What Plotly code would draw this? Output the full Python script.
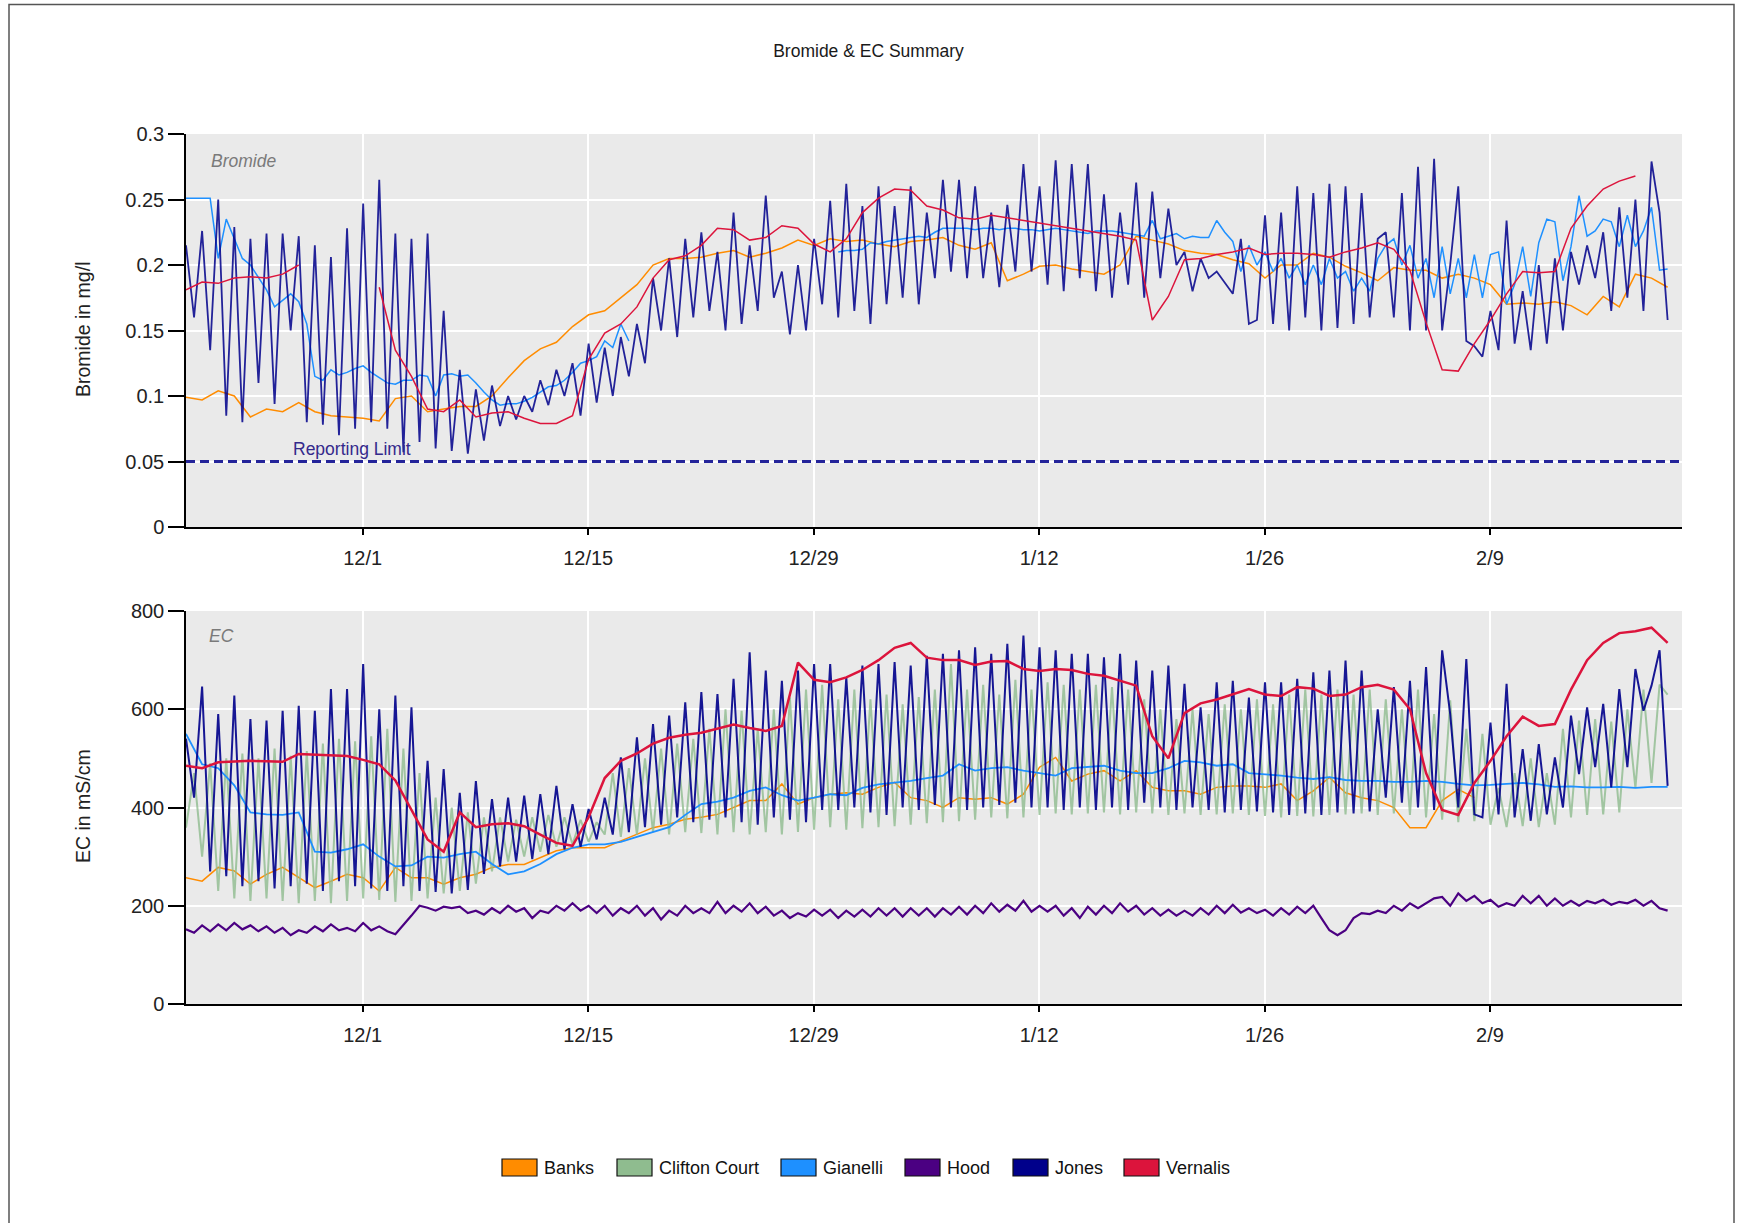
import plotly.graph_objects as go
import pandas as pd

# ---------------- time bases ----------------
START = "2014-11-20 00:39"
half_day_times = pd.date_range(START, periods=185, freq="12h")
day_times = pd.date_range(START, periods=93, freq="D")

x_ticks = ["2014-12-01", "2014-12-15", "2014-12-29", "2015-01-12", "2015-01-26", "2015-02-09"]
x_ticklabels = ["12/1", "12/15", "12/29", "1/12", "1/26", "2/9"]
br_ticks = [0, 0.05, 0.1, 0.15, 0.2, 0.25, 0.3]
br_ticklabels = ["0", "0.05", "0.1", "0.15", "0.2", "0.25", "0.3"]
ec_ticks = [0, 200, 400, 600, 800]
ec_ticklabels = ["0", "200", "400", "600", "800"]
reporting_limit = 0.05

# ---------------- Bromide (mg/l) ----------------
jones_br = [
    0.215, 0.160, 0.226, 0.135, 0.250, 0.085, 0.229, 0.080, 0.220, 0.110,
    0.224, 0.094, 0.224, 0.150, 0.222, 0.080, 0.215, 0.078, 0.206, 0.070,
    0.228, 0.075, 0.247, 0.080, 0.265, 0.075, 0.224, 0.057, 0.220, 0.065,
    0.224, 0.060, 0.165, 0.058, 0.120, 0.056, 0.105, 0.066, 0.108, 0.077,
    0.100, 0.082, 0.100, 0.088, 0.112, 0.093, 0.120, 0.100, 0.125, 0.085,
    0.140, 0.095, 0.137, 0.100, 0.145, 0.115, 0.155, 0.125, 0.190, 0.150,
    0.205, 0.145, 0.220, 0.160, 0.225, 0.165, 0.210, 0.150, 0.240, 0.155,
    0.215, 0.165, 0.253, 0.175, 0.195, 0.147, 0.200, 0.150, 0.220, 0.170,
    0.249, 0.160, 0.262, 0.165, 0.245, 0.155, 0.260, 0.170, 0.245, 0.175,
    0.260, 0.170, 0.240, 0.190, 0.265, 0.195, 0.265, 0.190, 0.260, 0.190,
    0.240, 0.183, 0.246, 0.195, 0.277, 0.195, 0.260, 0.185, 0.280, 0.180,
    0.277, 0.190, 0.277, 0.180, 0.254, 0.175, 0.240, 0.185, 0.263, 0.175,
    0.256, 0.190, 0.243, 0.200, 0.210, 0.180, 0.205, 0.190, 0.195, 0.186,
    0.178, 0.220, 0.155, 0.158, 0.238, 0.155, 0.240, 0.150, 0.260, 0.160,
    0.255, 0.150, 0.262, 0.152, 0.260, 0.155, 0.255, 0.160, 0.220, 0.225,
    0.160, 0.255, 0.150, 0.275, 0.150, 0.281, 0.150, 0.200, 0.260, 0.142,
    0.138, 0.130, 0.165, 0.135, 0.234, 0.140, 0.180, 0.135, 0.200, 0.140,
    0.205, 0.150, 0.210, 0.185, 0.215, 0.190, 0.225, 0.165, 0.244, 0.175,
    0.250, 0.165, 0.279, 0.240, 0.158,
]

gianelli_br = [
    0.251, 0.251, 0.251, 0.251, 0.205, 0.235, 0.220, 0.205, 0.200, 0.190,
    0.181, 0.168, 0.173, 0.178, 0.172, 0.155, 0.115, 0.112, 0.120, 0.116,
    0.118, 0.121, 0.123, 0.118, 0.114, 0.110, 0.109, 0.112, 0.112, 0.116,
    0.115, 0.100, 0.116, 0.117, 0.115, 0.116, 0.110, 0.103, 0.097, 0.093,
    0.094, 0.094, 0.096, 0.099, 0.103, 0.107, 0.108, 0.112, 0.118, 0.125,
    0.127, 0.130, 0.142, 0.137, 0.155, 0.142,
    None, None, None, None, None, None, None, None, None, None,
    None, None, None, None, None, None, None, None, None, None,
    None, None, None, None, None,
    0.210, 0.211, 0.211, 0.212, 0.217, 0.216, 0.218, 0.219, 0.220,
    0.221, 0.222, 0.221, 0.225, 0.228, 0.228, 0.228, 0.228, 0.227, 0.228,
    0.228, 0.227, 0.228, 0.228, 0.227, 0.227, 0.226, 0.227, 0.228, 0.227,
    0.226, 0.225, 0.224, 0.226, 0.226, 0.226, 0.225, 0.224, 0.223, 0.222,
    0.234, 0.220, 0.222, 0.224, 0.220, 0.222, 0.221, 0.221, 0.234, 0.225,
    0.218, 0.195, 0.215, 0.200, 0.210, 0.195, 0.205, 0.190, 0.200, 0.185,
    0.200, 0.185, 0.205, 0.190, 0.195, 0.180, 0.190, 0.180, 0.205, 0.215,
    0.220, 0.200, 0.215, 0.190, 0.205, 0.175, 0.214, 0.178, 0.205, 0.175,
    0.208, 0.175, 0.208, 0.210, 0.170, 0.185, 0.214, 0.176, 0.217, 0.235,
    0.233, 0.188, 0.214, 0.253, 0.222, 0.226, 0.235, 0.233, 0.214, 0.238,
    0.214, 0.226, 0.244, 0.196, 0.197,
]

banks_br = [
    0.099, 0.097, 0.104, 0.100, 0.084, 0.090, 0.088, 0.095, 0.088, 0.085,
    0.084, 0.083, 0.081, 0.098, 0.100, 0.088, 0.090, 0.092, 0.092, 0.100,
    0.114, 0.127, 0.136, 0.141, 0.153, 0.162, 0.165, 0.175, 0.185, 0.200,
    0.205, 0.205, 0.206, 0.209, 0.211, 0.206, 0.209, 0.213, 0.219, 0.215,
    0.220, 0.218, 0.219, 0.216, 0.214, 0.218, 0.219, 0.221, 0.215, 0.212,
    0.217, 0.188, 0.193, 0.199, 0.200, 0.197, 0.195, 0.193, 0.200, 0.222,
    0.219, 0.216, 0.211, 0.209, 0.208, 0.204, 0.201, 0.190, 0.200, 0.200,
    0.209, 0.206, 0.199, 0.194, 0.188, 0.198, 0.196, 0.196, 0.190, 0.193,
    0.190, 0.185, 0.170, 0.171, 0.170, 0.172, 0.169, 0.162, 0.176, 0.168,
    0.193, 0.190, 0.183,
]

vernalis_br = [
    0.181, 0.187, 0.186, 0.190, 0.191, 0.190, 0.193, 0.200, None, None,
    None, None, 0.183, 0.135, 0.115, 0.090, 0.088, 0.097, 0.084, 0.087,
    0.088, 0.083, 0.079, 0.079, 0.085, 0.128, 0.148, 0.155, 0.168, 0.190,
    0.204, 0.207, 0.215, 0.228, 0.227, 0.219, 0.221, 0.230, 0.228, 0.216,
    0.210, 0.220, 0.240, 0.251, 0.258, 0.257, 0.245, 0.242, 0.236, 0.235,
    0.238, 0.236, 0.234, 0.232, 0.230, 0.228, 0.226, 0.224, 0.222, 0.219,
    0.158, 0.176, 0.204, 0.205, 0.208, 0.210, 0.213, 0.208, 0.209, 0.209,
    0.208, 0.206, 0.210, 0.213, 0.217, 0.212, 0.196, 0.156, 0.120, 0.119,
    0.140, 0.158, 0.178, 0.195, 0.194, 0.195, 0.228, 0.245, 0.258, 0.264,
    0.268, None, None,
]

# ---------------- EC (mS/cm) ----------------
jones_ec = [
    540, 420, 646, 270, 590, 260, 628, 240, 580, 250,
    577, 235, 597, 240, 607, 245, 597, 230, 641, 250,
    641, 240, 692, 235, 600, 230, 628, 240, 604, 230,
    495, 228, 478, 225, 430, 232, 454, 265, 417, 280,
    420, 290, 424, 295, 427, 305, 444, 315, 407, 320,
    397, 335, 420, 345, 502, 350, 543, 360, 570, 365,
    587, 380, 614, 370, 635, 375, 631, 380, 662, 370,
    716, 365, 679, 380, 658, 375, 679, 370, 692, 395,
    692, 395, 665, 400, 689, 390, 692, 385, 696, 400,
    689, 395, 709, 405, 713, 400, 720, 395, 726, 400,
    713, 405, 733, 410, 750, 400, 726, 400, 720, 395,
    713, 400, 713, 395, 706, 400, 713, 395, 699, 410,
    679, 400, 689, 395, 652, 400, 604, 395, 655, 390,
    658, 395, 624, 392, 655, 390, 655, 385, 662, 388,
    675, 385, 679, 390, 699, 388, 679, 392, 600, 420,
    645, 410, 658, 400, 686, 395, 720, 590, 400, 702,
    386, 380, 573, 386, 652, 380, 519, 373, 529, 386,
    502, 400, 587, 468, 604, 482, 611, 441, 641, 482,
    682, 597, 648, 720, 444,
]

clifton_ec = [
    359, 470, 300, 490, 230, 500, 215, 510, 210, 500,
    215, 520, 210, 505, 205, 515, 210, 530, 205, 540,
    210, 535, 215, 545, 212, 560, 208, 520, 210, 470,
    215, 420, 225, 400, 230, 390, 245, 380, 270, 380,
    290, 375, 300, 380, 310, 385, 320, 380, 325, 375,
    330, 370, 345, 470, 340, 480, 345, 500, 350, 520,
    345, 530, 350, 540, 348, 560, 345, 600, 350, 597,
    345, 560, 350, 600, 345, 624, 350, 640, 355, 650,
    360, 620, 355, 640, 358, 620, 360, 630, 362, 610,
    365, 625, 368, 640, 370, 692, 372, 640, 375, 650,
    380, 630, 378, 660, 380, 640, 385, 655, 388, 650,
    386, 640, 388, 650, 390, 645, 386, 640, 390, 620,
    388, 600, 385, 580, 388, 600, 385, 590, 386, 610,
    388, 600, 385, 620, 383, 610, 380, 630, 383, 640,
    382, 630, 385, 640, 386, 630, 388, 640, 385, 620,
    388, 600, 385, 640, 380, 590, 375, 618, 370, 560,
    372, 550, 365, 440, 360, 470, 362, 500, 360, 470,
    365, 560, 380, 577, 385, 580, 386, 575, 390, 600,
    440, 640, 450, 650, 630,
]

hood_ec = [
    152, 145, 160, 148, 162, 150, 165, 152, 160, 148,
    158, 145, 155, 140, 150, 145, 158, 148, 162, 150,
    155, 148, 165, 150, 158, 148, 142, 160, 180, 200,
    196, 190, 198, 195, 198, 185, 190, 182, 195, 185,
    200, 188, 195, 175, 190, 185, 200, 190, 205, 190,
    200, 185, 200, 180, 195, 185, 200, 180, 195, 172,
    190, 180, 200, 185, 195, 185, 208, 185, 200, 188,
    205, 185, 198, 180, 190, 175, 185, 178, 192, 180,
    192, 175, 190, 178, 192, 178, 195, 180, 195, 178,
    195, 180, 195, 178, 195, 182, 198, 182, 200, 185,
    205, 188, 202, 190, 210, 188, 200, 188, 200, 180,
    195, 175, 198, 182, 200, 185, 205, 188, 200, 182,
    195, 180, 192, 180, 190, 180, 195, 182, 200, 185,
    202, 186, 195, 185, 192, 180, 195, 182, 198, 185,
    200, 175, 150, 140, 150, 175, 185, 183, 190, 185,
    200, 190, 205, 195, 205, 215, 218, 200, 225, 210,
    220, 205, 212, 198, 205, 200, 220, 205, 220, 200,
    215, 200, 210, 200, 210, 205, 212, 202, 208, 205,
    212, 200, 210, 195, 190,
]

banks_ec = [
    257, 250, 278, 271, 244, 264, 278, 257, 237, 250,
    264, 257, 230, 278, 257, 257, 244, 257, 264, 278,
    284, 284, 298, 312, 318, 318, 318, 332, 346, 359,
    366, 376, 380, 386, 400, 414, 414, 448, 407, 420,
    427, 430, 427, 441, 451, 420, 414, 400, 420, 417,
    420, 407, 427, 482, 502, 454, 468, 475, 454, 475,
    441, 434, 434, 427, 441, 444, 444, 441, 448, 414,
    434, 461, 430, 420, 414, 400, 359, 359, 414, 437,
    420, None, None, None, None, None, None, None, None, None,
    None, None, None,
]

gianelli_ec = [
    550, 488, 480, 445, 390, 386, 385, 390, 310, 308,
    315, 325, 300, 280, 282, 300, 298, 305, 310, 285,
    264, 270, 285, 305, 318, 325, 325, 330, 340, 350,
    360, 385, 407, 412, 420, 434, 441, 425, 414, 420,
    427, 425, 440, 447, 451, 454, 460, 465, 488, 475,
    480, 482, 475, 470, 465, 480, 482, 485, 475, 470,
    470, 480, 495, 492, 485, 488, 470, 468, 465, 461,
    458, 462, 456, 454, 454, 452, 452, 454, 452, 448,
    445, 446, 448, 450, 447, 442, 443, 441, 441, 442,
    440, 442, 442,
]

vernalis_ec = [
    485, 480, 492, 494, 495, 494, 493, 509, 508, 507,
    505, 497, 488, 455, 395, 335, 310, 390, 360, 366,
    368, 362, 345, 328, 322, 380, 460, 495, 510, 530,
    542, 548, 552, 560, 569, 562, 556, 566, 695, 660,
    655, 665, 680, 700, 725, 735, 705, 700, 700, 690,
    697, 698, 682, 678, 682, 680, 672, 668, 658, 648,
    545, 500, 592, 612, 620, 630, 641, 630, 627, 645,
    642, 627, 630, 645, 650, 640, 600, 470, 395, 385,
    450, 495, 545, 585, 566, 570, 640, 700, 735, 755,
    759, 766, 735,
]

for name, arr, n in [("jones_br", jones_br, 185), ("gianelli_br", gianelli_br, 185),
                     ("banks_br", banks_br, 93), ("vernalis_br", vernalis_br, 93),
                     ("jones_ec", jones_ec, 185), ("clifton_ec", clifton_ec, 185),
                     ("hood_ec", hood_ec, 185), ("banks_ec", banks_ec, 93),
                     ("gianelli_ec", gianelli_ec, 93), ("vernalis_ec", vernalis_ec, 93)]:
    assert len(arr) == n, f"{name}: {len(arr)} != {n}"

# ---------------- styling ----------------
BANKS, CLIFTON, GIANELLI = "#FF8C00", "#8FBC8F", "#1E90FF"
HOOD, JONES, VERNALIS = "#4B0082", "#00008B", "#DC143C"
SANS = "Liberation Sans, Arial, sans-serif"

fig = go.Figure()


def add(x, y, color, width, xa, ya, opacity=1.0):
    fig.add_trace(go.Scatter(x=x, y=y, mode="lines", line=dict(color=color, width=width),
                             opacity=opacity, connectgaps=False, hoverinfo="skip",
                             showlegend=False, xaxis=xa, yaxis=ya))


# top panel: Bromide
add(day_times, banks_br, BANKS, 1.5, "x", "y")
add(half_day_times, gianelli_br, GIANELLI, 1.5, "x", "y")
add(half_day_times, jones_br, JONES, 1.8, "x", "y", 0.85)
add(day_times, vernalis_br, VERNALIS, 1.5, "x", "y")

# bottom panel: EC
add(day_times, banks_ec, BANKS, 1.5, "x2", "y2")
add(half_day_times, clifton_ec, CLIFTON, 2.0, "x2", "y2", 0.8)
add(day_times, gianelli_ec, GIANELLI, 1.8, "x2", "y2")
add(half_day_times, hood_ec, HOOD, 2.2, "x2", "y2")
add(half_day_times, jones_ec, JONES, 2.0, "x2", "y2", 0.9)
add(day_times, vernalis_ec, VERNALIS, 2.5, "x2", "y2")

X_RANGE = ["2014-11-20 00:39", "2015-02-20 22:05"]
common_x = dict(type="date", range=X_RANGE, tickvals=x_ticks, ticktext=x_ticklabels,
                showgrid=True, gridcolor="white", gridwidth=2, zeroline=False,
                showline=True, linecolor="black", linewidth=1.5,
                ticks="outside", ticklen=6, tickcolor="black", tickwidth=1.5,
                tickfont=dict(family=SANS, size=20, color="#222"), ticklabelstandoff=6)
common_y = dict(showgrid=True, gridcolor="white", gridwidth=2, zeroline=False,
                showline=True, linecolor="black", linewidth=1.5,
                ticks="outside", ticklen=16, tickcolor="black", tickwidth=1.5,
                tickfont=dict(family=SANS, size=20, color="#222"))

TOP_DOM = [0.54828, 1.0]
BOT_DOM = [0.0, 0.45172]

fig.update_layout(
    width=1737, height=1223,
    margin=dict(l=186, r=55, t=134, b=219),
    paper_bgcolor="white", plot_bgcolor="#EAEAEA",
    showlegend=False,
    title=dict(text="Bromide & EC Summary", x=0.5, xref="container", xanchor="center",
               y=1 - 51 / 1223, yref="container", yanchor="middle",
               font=dict(family=SANS, size=17.5, color="#1a1a1a")),
    xaxis=dict(domain=[0, 1], anchor="y", **common_x),
    yaxis=dict(domain=TOP_DOM, anchor="x", range=[0, 0.3], tickvals=br_ticks,
               ticktext=br_ticklabels, **common_y),
    xaxis2=dict(domain=[0, 1], anchor="y2", **common_x),
    yaxis2=dict(domain=BOT_DOM, anchor="x2", range=[0, 800], tickvals=ec_ticks,
                ticktext=ec_ticklabels, **common_y),
)

# reporting limit
fig.add_shape(type="line", xref="x domain", yref="y", x0=0, x1=1,
              y0=reporting_limit, y1=reporting_limit,
              line=dict(color="#24249A", width=3, dash="9px,5px"))
fig.add_annotation(text="Reporting Limit", xref="paper", yref="y",
                   x=(291 - 186) / 1496, y=reporting_limit, xanchor="left", yanchor="bottom",
                   yshift=1, showarrow=False,
                   font=dict(family=SANS, size=17.5, color="#34298C"))

# panel labels
fig.add_annotation(text="<i>Bromide</i>", xref="paper", yref="paper",
                   x=(209 - 186) / 1496, y=(1004 - 161) / 870, xanchor="left", yanchor="middle",
                   showarrow=False, font=dict(family=SANS, size=17.5, color="#7a7a7a"))
fig.add_annotation(text="<i>EC</i>", xref="paper", yref="paper",
                   x=(207 - 186) / 1496, y=(1004 - 636) / 870, xanchor="left", yanchor="middle",
                   showarrow=False, font=dict(family=SANS, size=17.5, color="#7a7a7a"))

# y-axis titles
fig.add_annotation(text="Bromide in mg/l", xref="paper", yref="paper",
                   x=(83 - 186) / 1496, y=(1004 - 330) / 870, textangle=-90,
                   xanchor="center", yanchor="middle", showarrow=False,
                   font=dict(family=SANS, size=19.5, color="#222"))
fig.add_annotation(text="EC in mS/cm", xref="paper", yref="paper",
                   x=(83 - 186) / 1496, y=(1004 - 806) / 870, textangle=-90,
                   xanchor="center", yanchor="middle", showarrow=False,
                   font=dict(family=SANS, size=19.5, color="#222"))

# legend (boxes + labels)
legend_names = ["Banks", "Clifton Court", "Gianelli", "Hood", "Jones", "Vernalis"]
legend_colors = [BANKS, CLIFTON, GIANELLI, HOOD, JONES, VERNALIS]
legend_box_px = [502, 617, 781, 905, 1013, 1124]
BOX_W = 35
y_top = (1004 - 1159) / 870
y_bot = (1004 - 1176) / 870
for name, col, bx in zip(legend_names, legend_colors, legend_box_px):
    fig.add_shape(type="rect", xref="paper", yref="paper",
                  x0=(bx - 186) / 1496, x1=(bx + BOX_W - 186) / 1496, y0=y_bot, y1=y_top,
                  fillcolor=col, line=dict(color="#111", width=1.2))
    fig.add_annotation(text=name, xref="paper", yref="paper",
                       x=(bx + BOX_W + 5 - 186) / 1496, y=(y_top + y_bot) / 2,
                       xanchor="left", yanchor="middle", showarrow=False,
                       font=dict(family=SANS, size=18, color="#111"))

# outer frame
fig.add_shape(type="rect", xref="paper", yref="paper",
              x0=(9 - 186) / 1496, x1=(1734 - 186) / 1496,
              y0=(1004 - 1240) / 870, y1=(1004 - 4.5) / 870,
              line=dict(color="#555", width=1.5), fillcolor="rgba(0,0,0,0)")

fig.write_html("out.html", config={"displayModeBar": False},
               post_script="document.body.style.margin='0';document.body.style.overflow='hidden';")
